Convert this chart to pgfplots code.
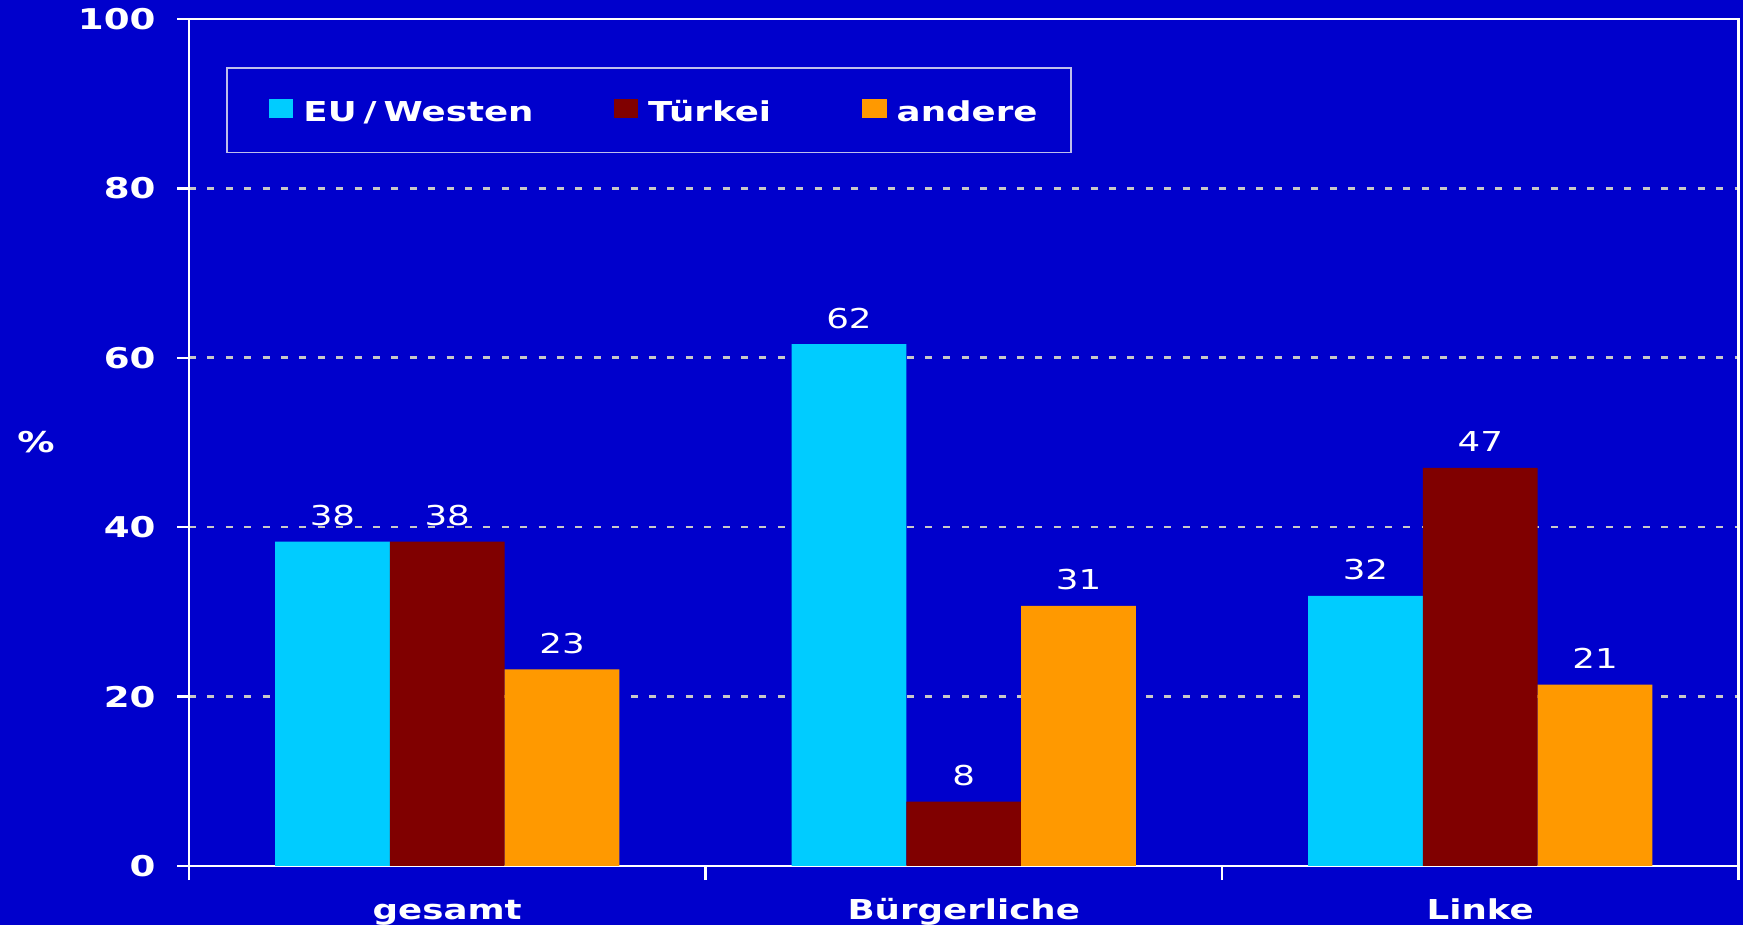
\documentclass[border=0pt]{standalone}
\usepackage{fontspec}
\setmainfont{DejaVu Sans}[FakeStretch=1.3]
\usepackage{pgfplots}
\pgfplotsset{compat=1.18}
\definecolor{bg}{RGB}{0,0,204}
\definecolor{cyanbar}{RGB}{0,204,255}
\definecolor{redbar}{RGB}{128,0,0}
\definecolor{orangebar}{RGB}{255,153,0}
\definecolor{gridc}{RGB}{200,200,200}
\definecolor{legc}{RGB}{190,190,235}
\newcommand{\lblfont}{\fontsize{13.7pt}{16pt}\selectfont}
\newcommand{\tickfont}{\fontsize{14.3pt}{16pt}\selectfont}
\begin{document}
\begin{tikzpicture}
\fill[bg] (-94.5pt,-29.5pt) rectangle (777pt,433pt);
\begin{axis}[
  at={(0,0)}, anchor=south west,
  scale only axis, width=774.75pt, height=423.5pt,
  xmin=-0.5, xmax=2.5, ymin=0, ymax=100,
  ybar=0pt, bar width=57.4pt,
  axis line style={white, line width=1.15pt},
  tick align=outside,
  tick pos=left,
  ytick={0,20,40,60,80,100},
  ytick style={draw=white, line width=1.15pt},
  major tick length=5.75pt,
  yticklabel style={anchor=east, inner sep=0pt, xshift=-10.75pt, text=white, font=\tickfont\bfseries},
  /pgf/number format/assume math mode=true,
  xtick={0,1,2},
  xticklabels={gesamt, Bürgerliche, Linke},
  xtick style={draw=none},
  xticklabel style={anchor=base, inner sep=0pt, yshift=-20.8pt, text=white, font=\lblfont\bfseries},
  extra x ticks={-0.5,0.5,1.5,2.5},
  extra x tick labels={},
  extra x tick style={xtick style={draw=white, line width=1.15pt}, major tick length=7pt},
  ymajorgrids,
  grid style={gridc, dash pattern=on 3.5pt off 5.7pt, line width=1.3pt},
  ylabel={\%},
  every axis y label/.style={at={(axis description cs:0,0.5)}, anchor=center, xshift=-76.5pt, text=white, font=\tickfont\bfseries},
  nodes near coords={\pgfmathprintnumber[fixed,precision=0]{\pgfplotspointmeta}},
  nodes near coords style={text=white, font=\lblfont, anchor=base, inner sep=0pt, yshift=8pt},
  legend columns=3,
  legend image code/.code={\fill[#1] (0pt,-0.5ex) rectangle (12.3pt,{9.5pt-0.5ex});},
  legend style={at={(axis description cs:0.0239,0.9445)}, anchor=north west,
    yshift=-0.6pt,
    draw=legc, line width=0.8pt, fill=none, text=white, font=\lblfont\bfseries,
    inner xsep=21pt, inner ysep=15.4pt,
    nodes={inner sep=0pt, text height=9.5pt, text depth=0pt},
    /tikz/every odd column/.append style={column sep=5pt},
    /tikz/every even column/.append style={column sep=40pt}},
]
\addplot[fill=cyanbar, draw=none] coordinates {(0,38.3) (1,61.6) (2,31.9)};
\addplot[fill=redbar, draw=none] coordinates {(0,38.3) (1,7.6) (2,47.0)};
\addplot[fill=orangebar, draw=none] coordinates {(0,23.2) (1,30.7) (2,21.4)};
\legend{EU\kern3.5pt/\kern3.5pt Westen, Türkei\kern5.5pt, andere\kern-4.2pt}
\end{axis}
\pgfresetboundingbox
\useasboundingbox (-94.5pt,-29.5pt) rectangle (777pt,433pt);
\end{tikzpicture}
\end{document}
